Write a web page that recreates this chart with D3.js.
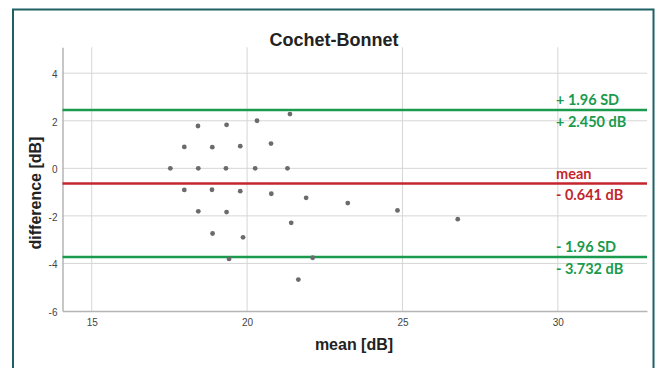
<!DOCTYPE html>
<html>
<head>
<meta charset="utf-8">
<script src="https://cdn.jsdelivr.net/npm/d3@7"></script>
<style>
html,body{margin:0;padding:0;background:#fff;}
svg{display:block;}
</style>
</head>
<body>
<svg id="chart" width="656" height="368"></svg>
<script>
// ---- data ----
const meanValues = [18.42,19.34,20.32,21.38,17.98,18.88,19.78,20.77,17.53,18.43,19.32,20.26,21.30,
  17.98,18.87,19.78,20.78,21.90,18.43,19.34,21.42,18.89,19.87,19.42,22.11,21.65,23.24,24.84,26.78];
const diffValues = [1.78,1.83,2.00,2.28,0.90,0.89,0.93,1.04,0,0,0,0,0,
  -0.91,-0.90,-0.96,-1.07,-1.24,-1.81,-1.84,-2.29,-2.74,-2.90,-3.81,-3.76,-4.68,-1.46,-1.77,-2.14];
const xTicks = [15,20,25,30];
const yTicks = [-6,-4,-2,0,2,4];
const limitValues = [2.450,-0.641,-3.732];
const limitLabels = [["+ 1.96 SD","+ 2.450 dB"],["mean","- 0.641 dB"],["- 1.96 SD","- 3.732 dB"]];
const limitColors = ["#1a9a4c","#c3262d","#1a9a4c"];
const titleText = "Cochet-Bonnet";
const xTitle = "mean [dB]";
const yTitle = "difference [dB]";

// ---- layout ----
const svg = d3.select("#chart");
const L = 62.5, R = 647, T = 47.3, B = 311;
const x = d3.scaleLinear().domain([14.06, 32.87]).range([L, R]);
const y = d3.scaleLinear().domain([-6, 5.09]).range([B, T]);

// frame
svg.append("rect").attr("x",13).attr("y",9.5).attr("width",640.5).attr("height",380)
  .attr("fill","none").attr("stroke","#1d6164").attr("stroke-width",2);

// grid
svg.append("g").selectAll("line").data(xTicks).join("line")
  .attr("x1",d=>x(d)).attr("x2",d=>x(d)).attr("y1",T).attr("y2",B)
  .attr("stroke","#d6d6d6").attr("stroke-width",1);
svg.append("g").selectAll("line").data(yTicks.filter(d=>d>-6)).join("line")
  .attr("x1",L).attr("x2",R).attr("y1",d=>y(d)).attr("y2",d=>y(d))
  .attr("stroke","#d6d6d6").attr("stroke-width",1);

// axes
const fmt = d => String(d);
const xAxis = d3.axisBottom(x).tickValues(xTicks).tickFormat(fmt).tickSize(0).tickPadding(8);
const gx = svg.append("g").attr("transform",`translate(0,${B})`).call(xAxis);
gx.select(".domain").attr("stroke","#b5b5b5").attr("stroke-width",1.5);
gx.selectAll("text").attr("font-family","Liberation Sans, Arial, sans-serif").attr("font-size",10).attr("fill","#444");

const yAxis = d3.axisLeft(y).tickValues(yTicks).tickFormat(fmt).tickSize(0).tickPadding(5);
const gy = svg.append("g").attr("transform",`translate(${L},0)`).call(yAxis);
gy.select(".domain").attr("stroke","#b5b5b5").attr("stroke-width",1.5);
gy.selectAll("text").attr("font-family","Liberation Sans, Arial, sans-serif").attr("font-size",10).attr("fill","#444")
  .attr("dy","0.45em");

// limit lines
svg.append("g").selectAll("line").data(limitValues).join("line")
  .attr("x1",L).attr("x2",R).attr("y1",d=>y(d)).attr("y2",d=>y(d))
  .attr("stroke",(d,i)=>limitColors[i]).attr("stroke-width",2.5);

// points
svg.append("g").selectAll("circle").data(meanValues).join("circle")
  .attr("cx",d=>x(d)).attr("cy",(d,i)=>y(diffValues[i])).attr("r",2.4)
  .attr("fill","#6b6b6b");

// limit labels
const lab = svg.append("g").attr("font-family","Lato, 'Open Sans', sans-serif").attr("font-weight","bold").attr("font-size",14.5);
limitValues.forEach((v,i)=>{
  lab.append("text").attr("x",556).attr("y",y(v)-5).attr("fill",limitColors[i]).text(limitLabels[i][0]);
  lab.append("text").attr("x",556).attr("y",y(v)+16.5).attr("fill",limitColors[i]).text(limitLabels[i][1]);
});

// titles
svg.append("text").attr("x",334).attr("y",46).attr("text-anchor","middle")
  .attr("font-family","Liberation Sans, Arial, sans-serif").attr("font-weight","bold").attr("font-size",18)
  .attr("fill","#222").text(titleText);
svg.append("text").attr("x",354).attr("y",350).attr("text-anchor","middle")
  .attr("font-family","Liberation Sans, Arial, sans-serif").attr("font-weight","bold").attr("font-size",16)
  .attr("fill","#222").text(xTitle);
svg.append("text").attr("transform","translate(41,193) rotate(-90)").attr("text-anchor","middle")
  .attr("font-family","Liberation Sans, Arial, sans-serif").attr("font-weight","bold").attr("font-size",16)
  .attr("fill","#222").text(yTitle);
</script>
</body>
</html>
